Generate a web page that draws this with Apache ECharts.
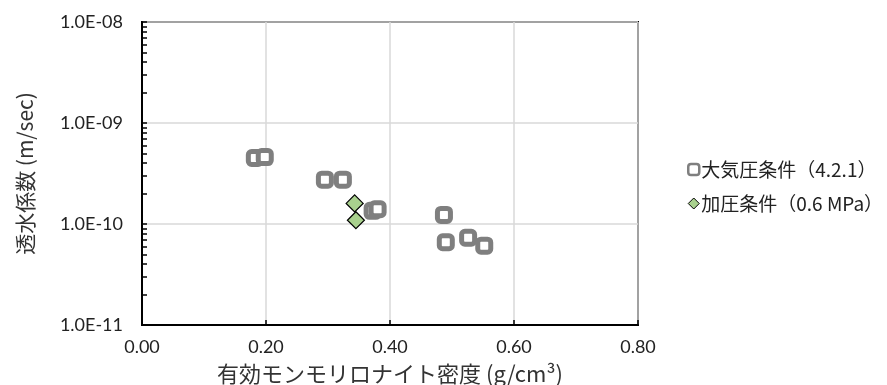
<!DOCTYPE html>
<html>
<head>
<meta charset="utf-8">
<script src="https://cdn.jsdelivr.net/npm/echarts@6/dist/echarts.min.js"></script>
<style>
  html, body { margin: 0; padding: 0; background: #fff; }
  #chart { width: 887px; height: 385px; }
</style>
</head>
<body>
<div id="chart"></div>
<script>
// Atmospheric-pressure series (4.2.1): effective montmorillonite density vs. permeability
const atmDensity = [0.182, 0.198, 0.295, 0.324, 0.372, 0.380, 0.487, 0.490, 0.526, 0.552];
const atmPermeability = [4.5e-10, 4.6e-10, 2.75e-10, 2.75e-10, 1.35e-10, 1.4e-10, 1.23e-10, 6.6e-11, 7.3e-11, 6.1e-11];

// Pressurised series (0.6 MPa)
const presDensity = [0.343, 0.345];
const presPermeability = [1.6e-10, 1.09e-10];

const seriesNames = ['大気圧条件（4.2.1）', '加圧条件（0.6 MPa）'];
const xTickLabels = ['0.00', '0.20', '0.40', '0.60', '0.80'];
const yTickLabels = { '-11': '1.0E-11', '-10': '1.0E-10', '-9': '1.0E-09', '-8': '1.0E-08' };

const font = 'Lato, "Noto Sans CJK JP", sans-serif';
const jpFont = '"Noto Sans CJK JP", sans-serif';

// Minor tick positions for the log axis: 2..9 inside each decade
const minorTicks = [];
for (let e = -11; e < -8; e++) {
  for (let m = 1; m <= 9; m++) minorTicks.push(Number((m * Math.pow(10, e)).toPrecision(3)));
}
minorTicks.push(1e-8);

const zip = (xs, ys) => xs.map((x, i) => [x, ys[i]]);

const logAxisBase = {
  type: 'log', logBase: 10,
  min: 1e-11, max: 1e-8,
  position: 'left'
};

const chart = echarts.init(document.getElementById('chart'), null, { renderer: 'canvas' });
chart.setOption({
  animation: false,
  backgroundColor: '#ffffff',
  grid: {
    left: 142, right: 249, top: 22, bottom: 60,
    outerBoundsMode: 'none',
    containLabel: false,
    show: true, borderColor: '#000', borderWidth: 2, backgroundColor: 'transparent'
  },
  legend: {
    orient: 'vertical',
    left: 682, top: 155,
    itemGap: 15,
    itemWidth: 11, itemHeight: 11,
    textStyle: { fontFamily: jpFont, fontSize: 19, color: '#222', padding: [0, 0, 0, -3] },
    data: [
      { name: seriesNames[0], itemStyle: { borderWidth: 2.5 } },
      { name: seriesNames[1], itemStyle: { borderWidth: 1 } }
    ]
  },
  xAxis: {
    type: 'value',
    min: 0, max: 0.8, interval: 0.2,
    name: '有効モンモリロナイト密度 (g/cm³)',
    nameLocation: 'middle', nameGap: 38,
    nameTextStyle: { fontFamily: jpFont, fontSize: 22, color: '#333' },
    axisLine: { show: true, lineStyle: { color: '#000', width: 2 } },
    axisTick: { show: true, inside: true, length: 5, lineStyle: { color: '#000', width: 1.5 } },
    axisLabel: {
      margin: 13, fontFamily: font, fontSize: 18, color: '#222',
      formatter: (v) => xTickLabels[Math.round(v / 0.2)]
    },
    splitLine: { show: true, lineStyle: { color: '#d9d9d9', width: 1.5 } }
  },
  yAxis: [
    Object.assign({}, logAxisBase, {
      name: '透水係数 (m/sec)',
      nameLocation: 'middle', nameGap: 106, nameRotate: 90,
      nameTextStyle: { fontFamily: jpFont, fontSize: 21, color: '#333' },
      axisLine: { show: true, lineStyle: { color: '#000', width: 2 } },
      axisTick: { show: false },
      axisLabel: {
        margin: 19, fontFamily: font, fontSize: 18, color: '#222',
        formatter: (v) => yTickLabels[String(Math.round(Math.log10(v)))] || ''
      },
      splitLine: { show: true, lineStyle: { color: '#d9d9d9', width: 1.5 } }
    }),
    // companion axis that only draws the inward minor ticks
    Object.assign({}, logAxisBase, {
      axisLine: { show: false },
      axisLabel: { show: false },
      splitLine: { show: false },
      axisTick: {
        show: true, inside: true, length: 5,
        customValues: minorTicks,
        lineStyle: { color: '#000', width: 1.5 }
      }
    })
  ],
  series: [
    {
      name: seriesNames[0],
      type: 'scatter',
      data: zip(atmDensity, atmPermeability),
      symbol: 'roundRect',
      symbolSize: 13,
      itemStyle: { color: '#ffffff', borderColor: '#7f7f7f', borderWidth: 5, opacity: 1 },
      z: 2
    },
    {
      name: seriesNames[1],
      type: 'scatter',
      data: zip(presDensity, presPermeability),
      symbol: 'diamond',
      symbolSize: 17,
      itemStyle: { color: '#a9d18e', borderColor: '#000', borderWidth: 1.2, opacity: 1 },
      z: 3
    }
  ]
});
</script>
</body>
</html>
